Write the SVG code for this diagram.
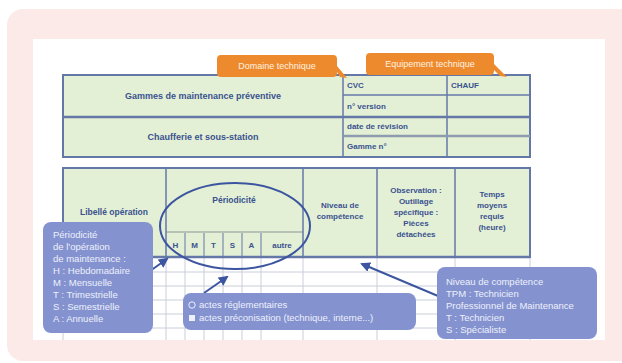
<svg xmlns="http://www.w3.org/2000/svg" width="622" height="363" viewBox="0 0 622 363">
<style>
.tb{fill:#e4f0d5;stroke:#6478a8;stroke-width:2}
.ln{stroke:#6478a8;stroke-width:1.5;fill:none}
.gl{stroke:#c9ced8;stroke-width:1;fill:none}
.tt{font-family:"Liberation Sans",Arial,sans-serif;font-weight:bold;fill:#3a5290}
.or{fill:#ee8a2e}
.ot{font-family:"Liberation Sans",Arial,sans-serif;font-size:9px;fill:#fff2e0}
.bx{fill:#8493d0}
.bt{font-family:"Liberation Sans",Arial,sans-serif;font-size:9.5px;fill:#eef0fb}
.ar{stroke:#3c55a0;stroke-width:2;fill:none;marker-end:url(#ah)}
</style>
<defs>
<marker id="ah" viewBox="0 0 10 10" refX="8" refY="5" markerWidth="5" markerHeight="5" orient="auto"><path d="M0,0L10,5L0,10z" fill="#3c55a0"/></marker>
</defs>
<rect x="7" y="9" width="630" height="352" rx="16" fill="#fbeae8"/>
<rect x="33" y="39" width="572" height="301" fill="#ffffff"/>

<g id="table1">
<rect class="tb" x="63" y="75" width="467" height="82"/>
<line class="ln" x1="343" y1="75" x2="343" y2="157"/>
<line class="ln" x1="447" y1="75" x2="447" y2="157"/>
<line class="ln" x1="63" y1="117" x2="530" y2="117" style="stroke-width:2.5"/>
<line class="ln" x1="343" y1="95" x2="530" y2="95"/>
<line x1="343" y1="136" x2="530" y2="136" stroke="#8e9aae" stroke-width="2.5"/>
<text class="tt" x="203" y="99" font-size="9" text-anchor="middle">Gammes de maintenance préventive</text>
<text class="tt" x="203" y="140" font-size="9" text-anchor="middle">Chaufferie et sous-station</text>
<text class="tt" x="347" y="88" font-size="8">CVC</text>
<text class="tt" x="451" y="88" font-size="8">CHAUF</text>
<text class="tt" x="347" y="109" font-size="8">n° version</text>
<text class="tt" x="347" y="129" font-size="8">date de révision</text>
<text class="tt" x="347" y="149" font-size="8">Gamme n°</text>
</g>

<g id="table2">
<rect x="63" y="257" width="467" height="83" fill="#ffffff"/>
<g class="gl">
<line x1="63" y1="272" x2="530" y2="272"/>
<line x1="63" y1="286" x2="530" y2="286"/>
<line x1="63" y1="300" x2="530" y2="300"/>
<line x1="63" y1="314" x2="530" y2="314"/>
<line x1="63" y1="328" x2="530" y2="328"/>
<line x1="63" y1="257" x2="63" y2="340"/>
<line x1="166" y1="257" x2="166" y2="340"/>
<line x1="185" y1="257" x2="185" y2="340"/>
<line x1="204" y1="257" x2="204" y2="340"/>
<line x1="223" y1="257" x2="223" y2="340"/>
<line x1="242" y1="257" x2="242" y2="340"/>
<line x1="261" y1="257" x2="261" y2="340"/>
<line x1="303" y1="257" x2="303" y2="340"/>
<line x1="377" y1="257" x2="377" y2="340"/>
<line x1="455" y1="257" x2="455" y2="340"/>
<line x1="530" y1="257" x2="530" y2="340"/>
</g>
<rect class="tb" x="63" y="168" width="467" height="89"/>
<line x1="166" y1="232" x2="303" y2="232" stroke="#b9c2b4" stroke-width="2"/>
<line class="ln" x1="166" y1="168" x2="166" y2="257"/>
<line class="ln" x1="303" y1="168" x2="303" y2="257"/>
<line class="ln" x1="377" y1="168" x2="377" y2="257"/>
<line class="ln" x1="455" y1="168" x2="455" y2="257"/>
<line class="ln" x1="185" y1="233" x2="185" y2="257" style="stroke-width:1"/>
<line class="ln" x1="204" y1="233" x2="204" y2="257" style="stroke-width:1"/>
<line class="ln" x1="223" y1="233" x2="223" y2="257" style="stroke-width:1"/>
<line class="ln" x1="242" y1="233" x2="242" y2="257" style="stroke-width:1"/>
<line class="ln" x1="261" y1="233" x2="261" y2="257" style="stroke-width:1"/>
<line class="ln" x1="63" y1="257" x2="530" y2="257" style="stroke-width:2.5"/>
<text class="tt" x="114" y="215" font-size="8.5" text-anchor="middle">Libellé opération</text>
<text class="tt" x="234" y="203" font-size="8.5" text-anchor="middle">Périodicité</text>
<g class="tt" font-size="8" text-anchor="middle">
<text x="175.5" y="248">H</text>
<text x="194.5" y="248">M</text>
<text x="213.5" y="248">T</text>
<text x="232.5" y="248">S</text>
<text x="251.5" y="248">A</text>
<text x="282" y="248">autre</text>
<text x="340" y="208">Niveau de</text>
<text x="340" y="219">compétence</text>
<text x="416" y="193">Observation :</text>
<text x="416" y="204">Outillage</text>
<text x="416" y="215">spécifique :</text>
<text x="416" y="226">Pièces</text>
<text x="416" y="237">détachées</text>
<text x="492" y="197">Temps</text>
<text x="492" y="208">moyens</text>
<text x="492" y="219">requis</text>
<text x="492" y="230">(heure)</text>
</g>
<ellipse cx="235" cy="226" rx="75" ry="43" fill="none" stroke="#3c55a0" stroke-width="2"/>
</g>

<g id="domaine">
<path class="or" d="M221,55H333a4,4 0 0 1 4,4V66L347,78L340,77L337,72V73a4,4 0 0 1 -4,4H221a4,4 0 0 1 -4,-4V59a4,4 0 0 1 4,-4z"/>
<text class="ot" x="277" y="69" text-anchor="middle">Domaine technique</text>
</g>
<g id="equipement">
<path class="or" d="M370,53H490a4,4 0 0 1 4,4V64L507,77L500,76L494,70V71a4,4 0 0 1 -4,4H370a4,4 0 0 1 -4,-4V57a4,4 0 0 1 4,-4z"/>
<text class="ot" x="430" y="67" text-anchor="middle">Equipement technique</text>
</g>

<g id="connectors">
<line class="ar" x1="150" y1="271" x2="167" y2="259"/>
<line class="ar" x1="204" y1="293" x2="227" y2="277"/>
<line class="ar" x1="438" y1="296" x2="362" y2="264"/>
</g>

<g id="legend-periodicite">
<rect class="bx" x="43" y="222" width="110" height="111" rx="8"/>
<g class="bt">
<text x="53" y="238">Périodicité</text>
<text x="53" y="250">de l'opération</text>
<text x="53" y="262">de maintenance :</text>
<text x="53" y="274">H : Hebdomadaire</text>
<text x="53" y="286">M : Mensuelle</text>
<text x="53" y="298">T : Trimestrielle</text>
<text x="53" y="310">S : Semestrielle</text>
<text x="53" y="322">A : Annuelle</text>
</g>
</g>

<g id="legend-actes">
<rect class="bx" x="183" y="293" width="233" height="37" rx="8"/>
<circle cx="192" cy="305" r="3.2" fill="none" stroke="#eef0fb" stroke-width="1"/>
<rect x="189" y="315" width="6" height="6" fill="#eef0fb"/>
<text class="bt" x="199" y="308">actes réglementaires</text>
<text class="bt" x="199" y="321">actes préconisation (technique, interne...)</text>
</g>

<g id="legend-niveau">
<rect class="bx" x="437" y="267" width="160" height="72" rx="8"/>
<g class="bt">
<text x="446" y="285">Niveau de compétence</text>
<text x="446" y="297">TPM : Technicien</text>
<text x="446" y="309">Professionnel de Maintenance</text>
<text x="446" y="321">T : Technicien</text>
<text x="446" y="333">S : Spécialiste</text>
</g>
</g>
</svg>
